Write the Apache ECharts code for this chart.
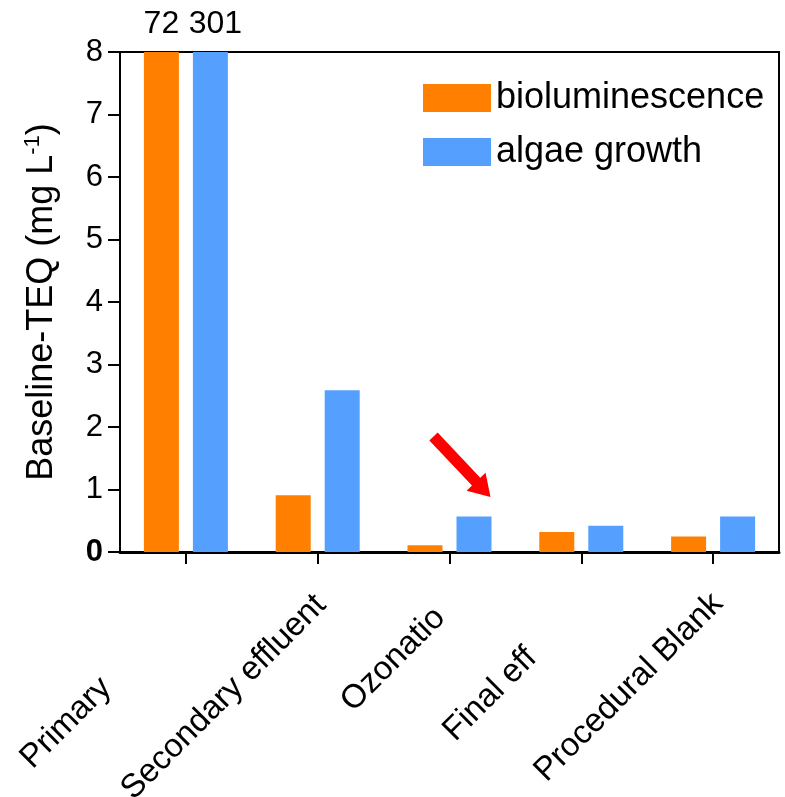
<!DOCTYPE html>
<html>
<head>
<meta charset="utf-8">
<script src="https://cdn.jsdelivr.net/npm/echarts@6/dist/echarts.min.js"></script>
<style>
html,body{margin:0;padding:0;background:#fff;}
#chart{width:785px;height:797px;}
</style>
</head>
<body>
<div id="chart"></div>
<script>
// ---- data ----
const categories = ['Primary effluent', 'Secondary effluent', 'Ozonation', 'Final effluent', 'Procedural Blank'];
const visibleLabels = ['Primary', 'Secondary effluent', 'Ozonatio', 'Final eff', 'Procedural Blank'];
const bioluminescence = [72, 0.91, 0.11, 0.32, 0.25];
const algaeGrowth = [301, 2.59, 0.57, 0.42, 0.57];
const yTicks = [0, 1, 2, 3, 4, 5, 6, 7, 8];
const seriesNames = ['bioluminescence', 'algae growth'];
const yMax = 8;

// ---- styling ----
const FONT = 'Liberation Sans, Arial, Helvetica, sans-serif';
const ORANGE = '#FF8000';
const BLUE = '#55A0FF';

const chart = echarts.init(document.getElementById('chart'), null, {renderer: 'canvas'});

function capped(arr) {
  return arr.map(v => ({value: Math.min(v, yMax), real: v}));
}

function valueLabel() {
  return {
    show: true,
    position: 'top',
    distance: 12,
    fontFamily: FONT,
    fontSize: 32,
    color: '#000',
    formatter: p => (p.data.real > yMax ? String(p.data.real) : '')
  };
}

// arrow annotation (pixel-space graphic)
function arrowPoints(tail, tip, halfShaft, halfHead, headLen) {
  const dx = tip[0] - tail[0], dy = tip[1] - tail[1];
  const L = Math.hypot(dx, dy);
  const ux = dx / L, uy = dy / L;
  const nx = -uy, ny = ux;
  const bx = tip[0] - ux * headLen, by = tip[1] - uy * headLen;
  return [
    [tail[0] + nx * halfShaft, tail[1] + ny * halfShaft],
    [bx + nx * halfShaft, by + ny * halfShaft],
    [bx + nx * halfHead, by + ny * halfHead],
    tip,
    [bx - nx * halfHead, by - ny * halfHead],
    [bx - nx * halfShaft, by - ny * halfShaft],
    [tail[0] - nx * halfShaft, tail[1] - ny * halfShaft]
  ];
}

const option = {
  backgroundColor: '#fff',
  animation: false,
  grid: {
    left: 120, right: 6, top: 52, bottom: 245,
    outerBoundsMode: 'none',
    containLabel: false,
    show: true, borderColor: '#000', borderWidth: 2, backgroundColor: 'transparent'
  },
  legend: {
    orient: 'vertical',
    left: 423, top: 80,
    padding: 0,
    itemWidth: 68, itemHeight: 28, itemGap: 18,
    icon: 'rect',
    data: seriesNames,
    textStyle: {fontFamily: FONT, fontSize: 36, color: '#000', lineHeight: 28, padding: [0, 0, 0, 0]},
    itemStyle: {borderWidth: 0}
  },
  xAxis: {
    type: 'category',
    data: categories,
    boundaryGap: true,
    axisLine: {show: true, lineStyle: {color: '#000', width: 3}},
    axisTick: {show: true, alignWithLabel: true, interval: 0, length: 12, lineStyle: {color: '#000', width: 2}},
    splitLine: {show: false},
    axisLabel: {
      interval: 0,
      rotate: 45,
      margin: 28,
      verticalAlign: 'top',
      fontFamily: FONT,
      fontSize: 33,
      color: '#000',
      formatter: (v, i) => visibleLabels[i] + '{g' + i + '| }',
      rich: {
        g0: {width: 129, fontSize: 33, fontFamily: FONT},
        g1: {width: 12, fontSize: 33, fontFamily: FONT},
        g2: {width: 30, fontSize: 33, fontFamily: FONT},
        g3: {width: 87, fontSize: 33, fontFamily: FONT},
        g4: {width: 10, fontSize: 33, fontFamily: FONT}
      }
    }
  },
  yAxis: {
    type: 'value',
    min: 0, max: yMax, interval: 1,
    name: 'Baseline-TEQ (mg L{sup|-1})',
    nameLocation: 'middle',
    nameRotate: 90,
    nameGap: 58,
    nameTextStyle: {
      fontFamily: FONT, fontSize: 36, color: '#000',
      rich: {sup: {fontFamily: FONT, fontSize: 22, color: '#000', verticalAlign: 'top', padding: [0, 0, 18, 0]}}
    },
    axisLine: {show: true, lineStyle: {color: '#000', width: 2}},
    axisTick: {show: true, length: 12, lineStyle: {color: '#000', width: 2}},
    splitLine: {show: false},
    axisLabel: {
      margin: 17,
      fontFamily: FONT, fontSize: 31, color: '#000',
      formatter: v => {
        if (yTicks.indexOf(v) < 0) return '';
        return v === 0 ? '{z|' + v + '}' : '{t|' + v + '}';
      },
      rich: {
        t: {fontFamily: FONT, fontSize: 31, color: '#000'},
        z: {fontFamily: FONT, fontSize: 31, color: '#000', fontWeight: 'bold'}
      }
    }
  },
  series: [
    {
      name: seriesNames[0],
      type: 'bar',
      data: capped(bioluminescence),
      barWidth: 35,
      barGap: '40%',
      itemStyle: {color: ORANGE},
      label: valueLabel()
    },
    {
      name: seriesNames[1],
      type: 'bar',
      data: capped(algaeGrowth),
      barWidth: 35,
      itemStyle: {color: BLUE},
      label: Object.assign(valueLabel(), {offset: [5, 0]})
    }
  ],
  graphic: [
    {
      type: 'polygon',
      shape: {points: arrowPoints([433.5, 436.5], [490.5, 497], 5.7, 13, 21)},
      style: {fill: '#FF0000'},
      z: 100
    }
  ]
};

chart.setOption(option);
</script>
</body>
</html>
